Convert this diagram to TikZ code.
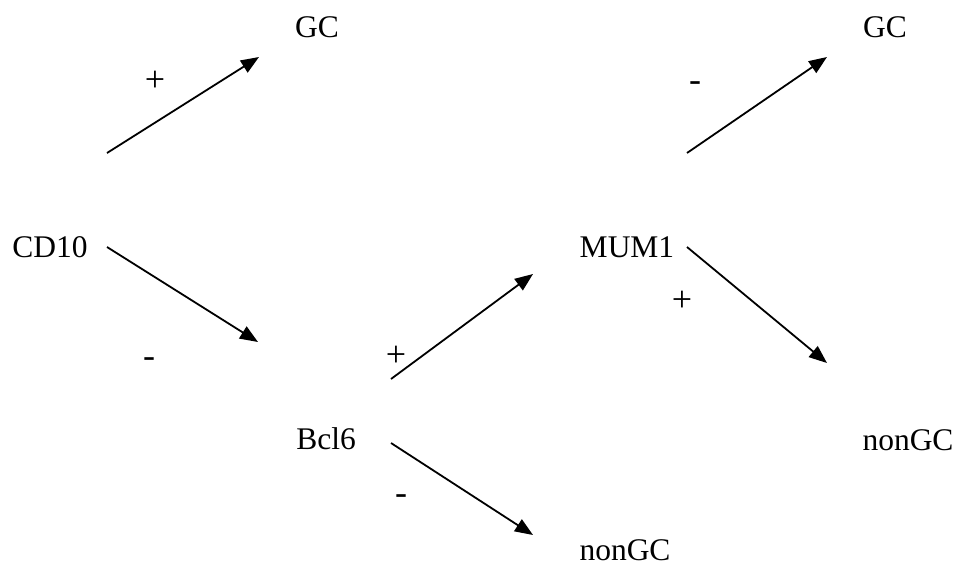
\documentclass[tikz,border=0pt]{standalone}
\usepackage{fontspec}
\setmainfont{Liberation Serif}
\usetikzlibrary{arrows.meta}
\begin{document}
\begin{tikzpicture}[x=1pt,y=-1pt,
  lbl/.style={anchor=base,inner sep=0pt,font=\fontsize{31.5}{37}\selectfont},
  sgn/.style={anchor=base,inner sep=0pt,font=\fontsize{36}{40}\selectfont},
  arr/.style={line width=1.8pt,-{Triangle[length=18pt,width=14pt]}}]
\useasboundingbox (0,0) rectangle (959,566);
% main nodes
\node[lbl] (gc1) at (317,37) {GC};
\node[lbl] (cd10) at (50,257) {CD10};
\node[lbl] (bcl6) at (326,449) {Bcl6};
\node[lbl] (ngc1) at (625,560) {nonGC};
\node[lbl] (mum1) at (627,257) {MUM1};
\node[lbl] (gc2) at (885,37) {GC};
\node[lbl] (ngc2) at (908,450) {nonGC};
% signs
\node[sgn] (s1) at (155,91) {+};
\node[sgn] (s2) at (149,367) {-};
\node[sgn] (s3) at (396,366) {+};
\node[sgn] (s4) at (401,504) {-};
\node[sgn] (s5) at (695,91) {-};
\node[sgn] (s6) at (682,311) {+};
% arrow ends
\coordinate (a1s) at (107,153); \coordinate (a1e) at (259,57);
\coordinate (a2s) at (107,247); \coordinate (a2e) at (258,342);
\coordinate (a3s) at (391,379); \coordinate (a3e) at (533,274);
\coordinate (a4s) at (391,443); \coordinate (a4e) at (533,535);
\coordinate (a5s) at (687,153); \coordinate (a5e) at (827,57);
\coordinate (a6s) at (687,247); \coordinate (a6e) at (827,363);
\draw[arr] (a1s) -- (a1e);
\draw[arr] (a2s) -- (a2e);
\draw[arr] (a3s) -- (a3e);
\draw[arr] (a4s) -- (a4e);
\draw[arr] (a5s) -- (a5e);
\draw[arr] (a6s) -- (a6e);
\end{tikzpicture}
\end{document}
